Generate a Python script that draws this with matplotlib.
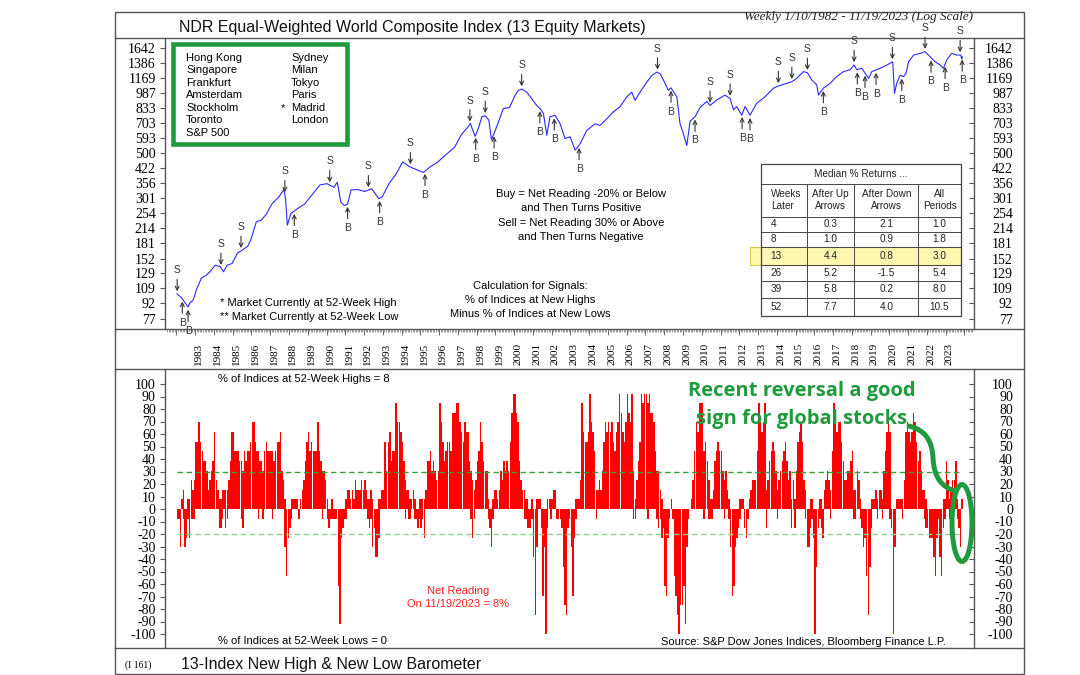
import numpy as np
import matplotlib
matplotlib.use("Agg")
import matplotlib.pyplot as plt
from matplotlib.patches import Rectangle, Ellipse, PathPatch
from matplotlib.path import Path
from matplotlib.lines import Line2D
from matplotlib.ticker import NullLocator

plt.rcParams['font.family'] = ['Liberation Sans', 'DejaVu Sans']
SERIF = 'Liberation Serif'

# Index level (log scale) at turning points
LINE_YEAR = [
    1982.03, 1982.26, 1982.40, 1982.62, 1982.71, 1982.88, 1982.96, 1983.06, 1983.33, 1983.59,
    1983.78, 1984.06, 1984.33, 1984.51, 1984.70, 1984.97, 1985.25, 1985.53, 1985.80, 1985.98,
    1986.26, 1986.53, 1986.81, 1987.08, 1987.45, 1987.73, 1987.82, 1987.91, 1988.10, 1988.46,
    1988.83, 1989.29, 1989.65, 1990.02, 1990.39, 1990.57, 1990.76, 1990.94, 1991.12, 1991.31,
    1991.67, 1992.04, 1992.41, 1992.78, 1992.96, 1993.33, 1993.70, 1994.06, 1994.43, 1994.80,
    1995.16, 1995.53, 1995.90, 1996.35, 1996.82, 1997.18, 1997.55, 1997.67, 1997.82, 1997.92,
    1998.10, 1998.28, 1998.46, 1998.65, 1998.79, 1998.93, 1999.20, 1999.42, 1999.75, 2000.05,
    2000.22, 2000.40, 2000.67, 2000.94, 2001.20, 2001.38, 2001.56, 2001.74, 2001.91, 2002.18,
    2002.45, 2002.71, 2002.98, 2003.25, 2003.51, 2003.87, 2004.31, 2004.58, 2004.93, 2005.29,
    2005.64, 2006.00, 2006.27, 2006.44, 2006.71, 2007.07, 2007.33, 2007.60, 2007.78, 2007.95,
    2008.22, 2008.36, 2008.67, 2008.84, 2009.02, 2009.20, 2009.38, 2009.64, 2009.91, 2010.27,
    2010.44, 2010.80, 2011.24, 2011.51, 2011.69, 2011.86, 2012.13, 2012.31, 2012.57, 2012.93,
    2013.37, 2013.82, 2014.08, 2014.53, 2014.80, 2015.06, 2015.42, 2015.63, 2015.86, 2016.13,
    2016.22, 2016.48, 2016.84, 2017.19, 2017.55, 2017.91, 2018.12, 2018.26, 2018.53, 2018.89,
    2019.06, 2019.33, 2019.68, 2020.04, 2020.18, 2020.27, 2020.39, 2020.57, 2020.75, 2020.89,
    2021.02, 2021.29, 2021.64, 2021.90, 2022.17, 2022.44, 2022.70, 2022.88, 2023.06, 2023.32,
    2023.59, 2023.80, 2023.86, 2023.88,
]
LINE_VALUE = [
    102, 98, 94, 88, 92, 95, 99, 107, 122, 126,
    131, 141, 139, 131, 141, 144, 162, 168, 175, 190,
    231, 235, 253, 282, 305, 332, 296, 222, 253, 268,
    282, 318, 350, 355, 341, 361, 289, 277, 282, 331,
    332, 325, 335, 300, 305, 355, 395, 454, 430, 416,
    403, 430, 451, 492, 535, 617, 676, 701, 640, 606,
    666, 757, 765, 729, 584, 626, 729, 830, 840, 964,
    1019, 1035, 1000, 928, 860, 830, 785, 614, 756, 770,
    699, 592, 603, 519, 557, 648, 699, 686, 738, 800,
    847, 947, 1000, 912, 1000, 1120, 1205, 1255, 1230, 1150,
    1020, 1050, 947, 700, 625, 547, 720, 757, 840, 900,
    860, 915, 967, 930, 818, 850, 770, 850, 770, 882,
    948, 1045, 1072, 1104, 1124, 1168, 1261, 1245, 1148, 1085,
    967, 1045, 1104, 1192, 1261, 1289, 1360, 1289, 1310, 1168,
    1261, 1289, 1331, 1387, 1409, 986, 1104, 1210, 1192, 1237,
    1409, 1521, 1550, 1580, 1493, 1409, 1361, 1310, 1441, 1550,
    1521, 1521, 1456, 1493,
]

# Signal dates (decimal years)
SELL_YEARS = [1982.04, 1984.37, 1985.44, 1987.78, 1990.17, 1992.23, 1994.47, 1997.64, 1998.46,
              2000.40, 2007.64, 2010.44, 2011.51, 2014.08, 2014.80, 2015.63, 2018.12, 2020.16,
              2021.90, 2023.77]
BUY_YEARS = [1982.31, 1982.62, 1988.28, 1991.12, 1992.83, 1995.25, 1997.95, 1998.93, 2001.37,
             2002.14, 2003.46, 2008.36, 2009.64, 2012.15, 2012.57, 2016.48, 2018.29, 2018.70,
             2019.29, 2020.66, 2022.22, 2022.97, 2023.88]

INDEX_TICKS = [77, 92, 109, 129, 152, 181, 214, 254, 301, 356, 422, 500, 593, 703, 833,
               987, 1169, 1386, 1642]
NET_TICKS = list(range(-100, 101, 10))
YEAR_LABELS = list(range(1983, 2024))

# Net reading per month, as count of the 13 indices (highs minus lows).
# Highest and lowest weekly reading seen in each month, Jan 1982 - Nov 2023
NET_HIGH_COUNTS = [
    0, 0, 0, 1, 2, 0, 0, 1, 1, 3, 2, 3,        # 1982
    7, 7, 9, 7, 6, 5, 5, 4, 2, 3, 4, 5,        # 1983
    8, 3, 2, 1, 1, 2, 2, 2, 2, 3, 5, 8,        # 1984
    8, 6, 6, 6, 5, 5, 4, 6, 5, 6, 6, 7,        # 1985
    9, 9, 7, 6, 6, 5, 5, 4, 6, 7, 6, 6,        # 1986
    6, 6, 5, 6, 7, 7, 8, 4, 3, 1, 0, 0,        # 1987
    0, 1, 1, 1, 1, 1, 0, 1, 2, 3, 5, 7,        # 1988
    8, 6, 7, 6, 6, 6, 9, 6, 5, 4, 4, 3,        # 1989
    1, 0, 0, 1, 0, 0, 0, 0, 0, 0, 0, 0,        # 1990
    1, 2, 2, 1, 2, 1, 3, 2, 2, 2, 3, 2,        # 1991
    3, 2, 1, 1, 2, 1, 0, 0, 0, 1, 1, 2,        # 1992
    2, 7, 4, 7, 8, 5, 6, 6, 11, 9, 9, 8,       # 1993
    7, 5, 3, 2, 2, 1, 1, 2, 1, 0, 0, 1,        # 1994
    1, 1, 1, 2, 5, 5, 6, 4, 5, 4, 3, 4,        # 1995
    11, 9, 7, 5, 6, 7, 7, 6, 10, 10, 10, 11,   # 1996
    11, 9, 8, 7, 9, 8, 8, 5, 4, 3, 2, 3,       # 1997
    5, 6, 9, 7, 5, 4, 4, 1, 0, 0, 1, 2,        # 1998
    2, 1, 2, 4, 3, 5, 4, 5, 4, 7, 10, 12,      # 1999
    12, 10, 9, 5, 3, 2, 2, 1, 1, 0, 0, 1,      # 2000
    0, 0, 1, 1, 1, 0, 0, 0, 0, 1, 1, 1,        # 2001
    1, 2, 2, 0, 0, 0, 0, 0, 0, 0, 0, 0,        # 2002
    0, 0, 0, 1, 1, 1, 3, 11, 8, 7, 7, 8,       # 2003
    12, 9, 8, 6, 2, 2, 3, 2, 4, 7, 9, 8,       # 2004
    9, 8, 9, 7, 6, 8, 9, 12, 10, 8, 7, 9,      # 2005
    12, 10, 9, 12, 4, 1, 3, 5, 7, 12, 11, 12,  # 2006
    12, 11, 12, 10, 10, 9, 6, 4, 4, 2, 1, 0,   # 2007
    0, 0, 0, 0, 1, 0, 0, 0, 0, 0, 0, 0,        # 2008
    0, 0, 0, 0, 0, 1, 3, 6, 9, 8, 11, 11,      # 2009
    11, 6, 7, 5, 3, 1, 1, 2, 5, 6, 7, 6,       # 2010
    6, 4, 3, 4, 2, 1, 0, 0, 0, 0, 0, 0,        # 2011
    1, 1, 1, 0, 0, 0, 1, 2, 3, 3, 3, 6,        # 2012
    11, 9, 8, 9, 11, 2, 3, 5, 6, 7, 6, 4,      # 2013
    2, 3, 4, 5, 6, 7, 5, 3, 4, 1, 3, 1,        # 2014
    4, 7, 8, 9, 7, 3, 2, 0, 0, 1, 1, 0,        # 2015
    0, 0, 0, 1, 1, 0, 2, 3, 4, 3, 2, 6,        # 2016
    11, 9, 8, 9, 9, 7, 5, 3, 3, 4, 4, 5,       # 2017
    6, 2, 2, 4, 3, 1, 0, 0, 0, 0, 0, 0,        # 2018
    1, 1, 1, 2, 1, 2, 2, 1, 4, 6, 8, 9,        # 2019
    8, 0, 0, 0, 1, 1, 1, 1, 1, 3, 8, 9,        # 2020
    8, 7, 8, 10, 9, 7, 5, 6, 4, 2, 2, 1,       # 2021
    0, 0, 0, 0, 0, 0, 0, 0, 0, 0, 1, 1,        # 2022
    5, 3, 1, 2, 3, 3, 5, 1, 0, 0, 1,           # 2023
]
NET_LOW_COUNTS = [
    -1, -1, -4, 0, -1, -4, -3, -1, -3, -1, -1, -1,        # 1982
    0, 0, 0, 0, 0, 0, 0, 0, 0, 0, 0, 0,                   # 1983
    0, 0, 0, -2, -2, -1, 0, -2, -1, 0, 0, 0,              # 1984
    0, 0, 0, 0, 0, -1, -2, 0, 0, 0, 0, 0,                 # 1985
    0, 0, 0, 0, -1, 0, 0, -1, 0, 0, 0, 0,                 # 1986
    0, -1, 0, 0, 0, 0, 0, 0, 0, -4, -7, -3,               # 1987
    -2, -1, 0, 0, 0, 0, -1, 0, 0, 0, 0, 0,                # 1988
    0, 0, 0, 0, 0, 0, 0, 0, 0, -1, 0, 0,                  # 1989
    -1, -2, -1, -1, -1, -1, -1, -8, -12, -3, -2, -1,      # 1990
    -1, 0, 0, 0, 0, 0, 0, 0, 0, 0, 0, 0,                  # 1991
    0, 0, -1, -2, -1, -4, -2, -5, -5, -3, 0, 0,           # 1992
    0, 0, 0, 0, 0, 0, 0, 0, 0, 0, 0, 0,                   # 1993
    0, 0, -1, 0, -1, -1, 0, 0, -1, -1, -2, -1,            # 1994
    -2, -1, -3, 0, 0, 0, 0, 0, 0, 0, 0, 0,                # 1995
    0, 0, 0, 0, 0, 0, 0, 0, 0, 0, 0, 0,                   # 1996
    0, 0, 0, 0, 0, 0, 0, 0, -1, -3, -1, 0,                # 1997
    0, 0, 0, 0, 0, 0, 0, -1, -2, -4, -1, 0,               # 1998
    0, 0, 0, 0, 0, 0, 0, 0, 0, 0, 0, 0,                   # 1999
    0, 0, 0, 0, 0, 0, -1, -1, -2, -2, -2, -1,             # 2000
    -5, -11, -4, 0, 0, -2, -9, -4, -13, -2, 0, -1,        # 2001
    0, 0, 0, -1, -1, -1, -2, -6, -10, -11, -2, -1,        # 2002
    -4, -9, -3, -1, 0, 0, 0, 0, 0, 0, 0, 0,               # 2003
    0, 0, 0, 0, -1, 0, 0, 0, 0, 0, 0, 0,                  # 2004
    0, 0, 0, 0, 0, 0, 0, 0, 0, 0, 0, 0,                   # 2005
    0, 0, 0, 0, -1, -1, 0, 0, 0, 0, 0, 0,                 # 2006
    0, -1, 0, 0, 0, 0, 0, -1, -2, -1, -3, -2,             # 2007
    -8, -9, -3, -1, 0, -1, -7, -9, -11, -13, -10, -10,    # 2008
    -8, -12, -4, -1, 0, 0, 0, 0, 0, 0, 0, 0,              # 2009
    0, -1, 0, 0, -1, -1, -1, 0, 0, 0, 0, 0,               # 2010
    0, 0, -1, 0, 0, -1, -4, -9, -8, -4, -3, -2,           # 2011
    -1, 0, 0, -2, -3, -1, 0, 0, 0, 0, 0, 0,               # 2012
    0, 0, 0, 0, 0, -2, 0, 0, 0, 0, 0, 0,                  # 2013
    -1, 0, 0, 0, 0, 0, 0, 0, 0, -2, 0, -2,                # 2014
    0, 0, 0, 0, 0, 0, -1, -4, -4, -2, -1, -3,             # 2015
    -13, -6, -2, -1, -2, -3, 0, 0, 0, 0, -1, 0,           # 2016
    0, 0, 0, 0, 0, 0, 0, 0, 0, 0, 0, 0,                   # 2017
    0, -1, -1, 0, 0, -1, -2, -4, -3, -7, -11, -6,         # 2018
    -2, 0, 0, 0, -1, 0, 0, -1, 0, 0, 0, 0,                # 2019
    -1, -2, -13, -4, 0, 0, 0, 0, -1, 0, 0, 0,             # 2020
    0, 0, 0, 0, 0, 0, 0, 0, 0, 0, -1, -2,                 # 2021
    -2, -3, -3, -3, -5, -7, -3, -1, -5, -7, -2, -1,       # 2022
    0, 0, -1, 0, 0, 0, 0, -1, -2, -4, 0,                  # 2023
]
N_INDICES = 13

MARKETS_LEFT = ['Hong Kong', 'Singapore', 'Frankfurt', 'Amsterdam', 'Stockholm', 'Toronto', 'S&P 500']
MARKETS_RIGHT = ['Sydney', 'Milan', 'Tokyo', 'Paris', 'Madrid', 'London']
MARKETS_RIGHT_FLAG = ['', '', '', '', '*', '']

TABLE_WEEKS = ['4', '8', '13', '26', '39', '52']
TABLE_UP = ['0.3', '1.0', '4.4', '5.2', '5.8', '7.7']
TABLE_DOWN = ['2.1', '0.9', '0.8', '-1.5', '0.2', '4.0']
TABLE_ALL = ['1.0', '1.8', '3.0', '5.4', '8.0', '10.5']

GREEN = '#1f9a3c'
FRAME = '#555555'

W, H = 1080, 675
fig = plt.figure(figsize=(W / 100, H / 100), dpi=100)


#pixel helpers (origin top-left like the reference picture)
def fx(x):
    return x / W


def fy(y):
    return 1 - y / H


def ptext(x, y, s, **kw):
    kw.setdefault('va', 'center')
    return fig.text(fx(x), fy(y), s, **kw)


def hline(y, x0=115, x1=1024, **kw):
    fig.add_artist(Line2D([fx(x0), fx(x1)], [fy(y), fy(y)], transform=fig.transFigure, **kw))


def vline(x, y0, y1, **kw):
    fig.add_artist(Line2D([fx(x), fx(x)], [fy(y0), fy(y1)], transform=fig.transFigure, **kw))


def rect(x0, y0, x1, y1, **kw):
    r = Rectangle((fx(x0), fy(y1)), fx(x1) - fx(x0), fy(y0) - fy(y1), transform=fig.transFigure, **kw)
    fig.add_artist(r)
    return r


XLIM = (1981.39, 2024.51)
AX_L, AX_R = 165, 974

#Top panel - index on log scale
ax = fig.add_axes([fx(AX_L), fy(329), fx(AX_R) - fx(AX_L), fy(37.5) - fy(329)])
ax.set_yscale('log')
ax.set_ylim(68.6, 1855)
ax.set_xlim(*XLIM)
ax.plot(LINE_YEAR, LINE_VALUE, color='#2a2aff', lw=0.8)

for side in ['top', 'bottom']:
    ax.spines[side].set_visible(False)
for side in ['left', 'right']:
    ax.spines[side].set_color(FRAME)
    ax.spines[side].set_linewidth(1)

tick_lbls = [str(v) for v in INDEX_TICKS]
ax.yaxis.set_minor_locator(NullLocator())
ax.set_yticks(INDEX_TICKS, tick_lbls, fontfamily=SERIF, fontsize=10)
ax.tick_params(axis='y', direction='out', length=3.6, width=0.8, pad=3, color=FRAME)

ax.set_xticks(np.arange(1982, 2025))
ax.set_xticks(np.arange(1981.5, 2024.5, 1 / 12), minor=True)
ax.tick_params(axis='x', which='major', direction='out', length=4, width=0.6, color=FRAME, labelbottom=False)
ax.tick_params(axis='x', which='minor', direction='out', length=2.5, width=0.4, color=FRAME)
for yr in YEAR_LABELS:
    ax.text(yr + 0.2, -0.086, str(yr), transform=ax.get_xaxis_transform(), rotation=90,
            ha='center', va='center', fontsize=8, fontfamily=SERIF)

axr = ax.twinx()
axr.set_yscale('log')
axr.set_ylim(ax.get_ylim())
axr.yaxis.set_minor_locator(NullLocator())
axr.set_yticks(INDEX_TICKS, tick_lbls, fontfamily=SERIF, fontsize=10, ha='right')
axr.tick_params(axis='y', direction='in', length=3.6, width=0.8, pad=28, color=FRAME)
for s in axr.spines.values():
    s.set_visible(False)

#Buy / sell arrows
arrow_kw = dict(arrowstyle='->', color='#333333', lw=0.8, shrinkA=1, shrinkB=2, mutation_scale=7)
for yr in SELL_YEARS:
    v = np.interp(yr, LINE_YEAR, LINE_VALUE)
    ax.annotate('S', xy=(yr, v), xytext=(0, 13.5), textcoords='offset points', ha='center', va='bottom',
                fontsize=7.5, color='#333333', arrowprops=arrow_kw)
for yr in BUY_YEARS:
    v = np.interp(yr, LINE_YEAR, LINE_VALUE)
    ax.annotate('B', xy=(yr, v), xytext=(0, -13.5), textcoords='offset points', ha='center', va='top',
                fontsize=7.5, color='#333333', arrowprops=arrow_kw)

#Bottom panel - net reading bars
bx = fig.add_axes([fx(AX_L), fy(647.5), fx(AX_R) - fx(AX_L), fy(368.5) - fy(647.5)])
bx.set_xlim(*XLIM)
bx.set_ylim(-110.8, 112.4)
month_x = 1982 + (np.arange(len(NET_HIGH_COUNTS)) + 0.5) / 12
high_pct = np.array(NET_HIGH_COUNTS) * 100 / N_INDICES
low_pct = np.array(NET_LOW_COUNTS) * 100 / N_INDICES
bx.bar(month_x, high_pct, width=0.92 / 12, color='#ff0000', lw=0)
bx.bar(month_x, low_pct, width=0.92 / 12, color='#ff0000', lw=0)
bx.hlines(30, LINE_YEAR[0], LINE_YEAR[-1], color='#3a9e3a', lw=1, linestyles=(0, (4, 2.5)), zorder=3)
bx.hlines(-20, LINE_YEAR[0], LINE_YEAR[-1], color='#8fcf8f', lw=1, linestyles=(0, (4, 2.5)), zorder=3)

for side in ['top', 'bottom']:
    bx.spines[side].set_visible(False)
for side in ['left', 'right']:
    bx.spines[side].set_color(FRAME)
    bx.spines[side].set_linewidth(1)
bx.set_xticks([])
net_lbls = [str(v) for v in NET_TICKS]
bx.set_yticks(NET_TICKS, net_lbls, fontfamily=SERIF, fontsize=10)
bx.tick_params(axis='y', direction='out', length=3.6, width=0.8, pad=3, color=FRAME)
bxr = bx.twinx()
bxr.set_ylim(bx.get_ylim())
bxr.set_yticks(NET_TICKS, net_lbls, fontfamily=SERIF, fontsize=10, ha='right')
bxr.tick_params(axis='y', direction='in', length=3.6, width=0.8, pad=28, color=FRAME)
for s in bxr.spines.values():
    s.set_visible(False)

#Frame and separators
rect(115, 12, 1024, 674, fill=False, ec=FRAME, lw=1)
for y in [37.5, 329, 368.5, 647.5]:
    hline(y, color=FRAME, lw=1)

#Titles
ptext(179, 27.5, 'NDR Equal-Weighted World Composite Index (13 Equity Markets)', fontsize=11.5, color='#111111')
ptext(859, 16.7, 'Weekly 1/10/1982 - 11/19/2023 (Log Scale)', fontsize=9.5, style='italic',
      fontfamily=SERIF, ha='center', color='#222222')
ptext(138, 664.7, '(I 161)', fontsize=7, fontfamily=SERIF, ha='center')
ptext(180.6, 664.7, '13-Index New High & New Low Barometer', fontsize=11.5, color='#111111')

#Legend box of markets
rect(173, 44, 347, 144, fc='white', ec=GREEN, lw=3.3)
for i, name in enumerate(MARKETS_LEFT):
    ptext(186, 57.7 + 12.5 * i, name, fontsize=8)
for i, name in enumerate(MARKETS_RIGHT):
    ptext(291, 57.7 + 12.5 * i, name, fontsize=8)
    if MARKETS_RIGHT_FLAG[i]:
        ptext(281, 57.7 + 12.5 * i, MARKETS_RIGHT_FLAG[i], fontsize=8)

#Notes in the top panel
for i, s in enumerate(['Buy = Net Reading -20% or Below', 'and Then Turns Positive',
                       'Sell = Net Reading 30% or Above', 'and Then Turns Negative']):
    ptext(581, 194.3 + 14.1 * i, s, fontsize=8, ha='center')
for i, s in enumerate(['Calculation for Signals:', '% of Indices at New Highs', 'Minus % of Indices at New Lows']):
    ptext(530, 286 + 14 * i, s, fontsize=8, ha='center')
ptext(219.5, 303.3, '* Market Currently at 52-Week High', fontsize=8)
ptext(219.5, 316.7, '** Market Currently at 52-Week Low', fontsize=8)

#Median returns table
col_x = [760.7, 806.7, 854.3, 918.3, 960.7]
row_y = [164, 184, 216.7, 231.7, 247.3, 265, 280.7, 297.7, 316]
rect(col_x[0], row_y[0], col_x[-1], row_y[-1], fc='white', ec='none', zorder=1)
rect(750, row_y[4], 961, row_y[5], fc='#fff6b0', ec='#d8c84a', lw=0.8, zorder=1.5)
rect(col_x[0], row_y[0], col_x[-1], row_y[-1], fill=False, ec='#444444', lw=0.9, zorder=2)
for y in row_y[1:-1]:
    hline(y, col_x[0], col_x[-1], color='#444444', lw=0.7, zorder=2)
for x in col_x[1:-1]:
    vline(x, row_y[1], row_y[-1], color='#444444', lw=0.7, zorder=2)
tfs = 7.2
ptext((col_x[0] + col_x[-1]) / 2, 174, 'Median % Returns ...', fontsize=tfs, ha='center', color='#222222')
centers = [(col_x[i] + col_x[i + 1]) / 2 for i in range(4)]
ptext(770.7, 200.3, 'Weeks\nLater', fontsize=tfs, ha='left', linespacing=1.25, color='#222222')
for cx, s in zip(centers[1:], ['After Up\nArrows', 'After Down\nArrows', 'All\nPeriods']):
    ptext(cx, 200.3, s, fontsize=tfs, ha='center', multialignment='center', linespacing=1.25, color='#222222')
for i in range(len(TABLE_WEEKS)):
    yc = (row_y[i + 2] + row_y[i + 3]) / 2
    ptext(770.7, yc, TABLE_WEEKS[i], fontsize=tfs, ha='left', color='#222222')
    ptext(centers[1], yc, TABLE_UP[i], fontsize=tfs, ha='center', color='#222222')
    ptext(centers[2], yc, TABLE_DOWN[i], fontsize=tfs, ha='center', color='#222222')
    ptext(centers[3], yc, TABLE_ALL[i], fontsize=tfs, ha='center', color='#222222')

#Bottom panel notes
ptext(218.5, 379.3, '% of Indices at 52-Week Highs = 8', fontsize=8)
ptext(218.5, 640.7, '% of Indices at 52-Week Lows = 0', fontsize=8)
ptext(458, 590.7, 'Net Reading', fontsize=8, ha='center', color='#ff2020')
ptext(458, 604.3, 'On 11/19/2023 = 8%', fontsize=8, ha='center', color='#ff2020')
ptext(946, 641.7, 'Source: S&P Dow Jones Indices, Bloomberg Finance L.P.', fontsize=8, ha='right')

#Green callout
ptext(802, 390.7, 'Recent reversal a good', fontsize=14.5, fontweight='bold', fontfamily='Open Sans',
      color=GREEN, ha='center')
ptext(802, 419, 'sign for global stocks', fontsize=14.5, fontweight='bold', fontfamily='Open Sans',
      color=GREEN, ha='center')
pts = [(909, 426), (925, 430), (932, 440), (933, 458), (934, 478), (942, 487), (955, 491)]
codes = [Path.MOVETO] + [Path.CURVE4] * 6
path = Path([(fx(x), fy(y)) for x, y in pts], codes)
fig.add_artist(PathPatch(path, transform=fig.transFigure, fill=False, ec=GREEN, lw=3.6, capstyle='round'))
fig.add_artist(Ellipse((fx(962), fy(523)), 20 / W, 77 / H, transform=fig.transFigure,
                       fill=False, ec=GREEN, lw=3.6))

fig.savefig('out.png', dpi=100)
